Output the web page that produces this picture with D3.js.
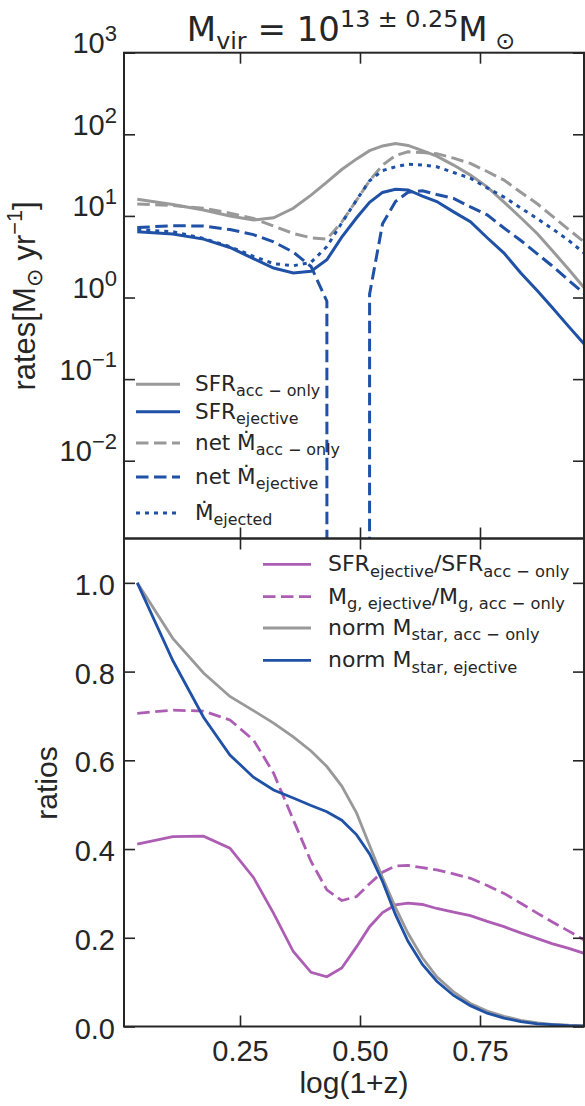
<!DOCTYPE html>
<html>
<head>
<meta charset="utf-8">
<script src="https://cdn.jsdelivr.net/npm/d3@7/dist/d3.min.js"></script>
<style>
  body { margin: 0; background: #fff; }
  svg text { fill: #262626; white-space: pre; }
</style>
</head>
<body>
<script>
// log(1+z) grid shared by every curve
const lz = [0.036, 0.110, 0.174, 0.229, 0.278, 0.320, 0.361, 0.398, 0.431, 0.462, 0.493, 0.520, 0.547,
            0.574, 0.600, 0.630, 0.660, 0.695, 0.730, 0.765, 0.800, 0.835, 0.870, 0.900, 0.935, 0.967];

// top panel: rates [Msun/yr]  (negative = net outflow, clipped on log axis)
const sfrAcc      = [16.0, 13.8, 11.8, 10.0, 8.9, 9.5, 12.4, 18, 26, 37, 50, 63, 72, 77, 73, 63, 54, 42, 31.6, 22.7, 14.8, 9.5, 6.0, 3.8, 2.2, 1.32];
const sfrEj       = [6.4, 6.0, 5.2, 4.1, 3.0, 2.3, 2.0, 2.1, 2.9, 5.5, 9.5, 14.7, 19.4, 21.2, 20.8, 17.5, 15, 11.2, 8.5, 5.4, 3.5, 2.0, 1.2, 0.76, 0.44, 0.27];
const netMdotAcc  = [14, 13.4, 12.4, 10.8, 9.3, 7.5, 6.1, 5.4, 5.2, 8.4, 15.6, 27, 42, 55, 61, 60, 58, 51, 44, 35, 27.5, 19.5, 14, 10, 6.8, 4.8];
const netMdotEj   = [7.2, 7.6, 7.5, 6.8, 5.9, 4.8, 3.6, 2.4, 0.9, -3, -2, 1.1, 8.0, 15, 19.5, 20.3, 18.3, 16.4, 12.9, 10.3, 7.1, 5.0, 3.4, 2.45, 1.62, 1.12];
const mdotEjected = [6.8, 6.4, 5.3, 4.2, 3.2, 2.6, 2.45, 2.7, 4.2, 8.2, 15.7, 27, 36, 40, 43, 42, 40, 34, 29, 22, 17, 12.5, 9.2, 7.0, 5.0, 3.5];

// bottom panel: ratios
const sfrRatio    = [0.411, 0.428, 0.429, 0.402, 0.336, 0.255, 0.169, 0.122, 0.112, 0.132, 0.180, 0.225, 0.257, 0.274, 0.278, 0.275, 0.266, 0.258, 0.250, 0.237, 0.225, 0.211, 0.198, 0.187, 0.176, 0.165];
const mgRatio     = [0.706, 0.713, 0.711, 0.691, 0.646, 0.571, 0.466, 0.372, 0.308, 0.284, 0.293, 0.322, 0.348, 0.362, 0.363, 0.358, 0.353, 0.344, 0.334, 0.318, 0.300, 0.278, 0.255, 0.236, 0.215, 0.195];
const mstarAcc    = [1.0, 0.875, 0.797, 0.744, 0.712, 0.684, 0.653, 0.621, 0.586, 0.542, 0.481, 0.408, 0.335, 0.268, 0.210, 0.155, 0.112, 0.078, 0.052, 0.035, 0.023, 0.014, 0.008, 0.005, 0.003, 0.002];
const mstarEj     = [1.0, 0.825, 0.697, 0.612, 0.562, 0.533, 0.515, 0.498, 0.484, 0.465, 0.432, 0.389, 0.327, 0.252, 0.192, 0.140, 0.102, 0.070, 0.047, 0.030, 0.019, 0.011, 0.006, 0.004, 0.002, 0.001];

// ticks
const xTicks = [0.25, 0.5, 0.75];
const xTickLabels = ['0.25', '0.50', '0.75'];
const yTopTicks = [1e-2, 1e-1, 1, 10, 100, 1000];
const yTopExp = ['\u22122', '\u22121', '0', '1', '2', '3'];
const yBotTicks = [0, 0.2, 0.4, 0.6, 0.8, 1.0];

const grey = '#999999', blue = '#1f51a6', purple = '#ad5eb4';
const lw = 3;

const svg = d3.select('body').append('svg')
    .attr('width', 585)
    .attr('height', 1106)
    .style('font-family', '"Liberation Sans", Arial, sans-serif');

const left = 124, right = 584, topY = 52.7, midY = 538.5, botY = 1026.5;

const x = d3.scaleLinear().domain([0.00833, 0.9667]).range([left, right]);
const yTop = d3.scaleLog().domain([Math.pow(10, -2.953), 1000]).range([midY, topY]);
const yBot = d3.scaleLinear().domain([0, 1.1]).range([botY, midY]);

// mathtext-ish helper: parts = [[text, 'n'|'sub'|'sup'], ...]
function rich(t, parts, size, small = 0.7) {
    let shift = 0;
    parts.forEach(([s, k]) => {
        const target = k === 'sub' ? size * 0.24 : k === 'sup' ? -size * 0.42 : 0;
        t.append('tspan')
            .attr('dy', target - shift)
            .attr('font-size', k === 'n' ? size : size * small)
            .text(s);
        shift = target;
    });
}

// clip paths
const defs = svg.append('defs');
defs.append('clipPath').attr('id', 'clipTop').append('rect')
    .attr('x', left).attr('y', topY).attr('width', right - left).attr('height', midY - topY);
defs.append('clipPath').attr('id', 'clipBot').append('rect')
    .attr('x', left).attr('y', midY).attr('width', right - left).attr('height', botY - midY);

// ---- top panel curves
const lineTop = d3.line()
    .x((d, i) => x(lz[i]))
    .y(d => d > 0 ? yTop(d) : 1e5);

const topSeries = [
    {data: sfrAcc, color: grey, dash: null},
    {data: sfrEj, color: blue, dash: null},
    {data: netMdotAcc, color: grey, dash: '12.5,5.5'},
    {data: netMdotEj, color: blue, dash: '12.5,5.5'},
    {data: mdotEjected, color: blue, dash: '4,5'}
];
const gTop = svg.append('g').attr('clip-path', 'url(#clipTop)');
topSeries.forEach(s => {
    gTop.append('path')
        .attr('d', lineTop(s.data))
        .attr('fill', 'none')
        .attr('stroke', s.color)
        .attr('stroke-width', lw)
        .attr('stroke-dasharray', s.dash);
});

// ---- bottom panel curves
const lineBot = d3.line()
    .x((d, i) => x(lz[i]))
    .y(d => yBot(d));

const botSeries = [
    {data: sfrRatio, color: purple, dash: null},
    {data: mgRatio, color: purple, dash: '12.5,5.5'},
    {data: mstarAcc, color: grey, dash: null},
    {data: mstarEj, color: blue, dash: null}
];
const gBot = svg.append('g').attr('clip-path', 'url(#clipBot)');
botSeries.forEach(s => {
    gBot.append('path')
        .attr('d', lineBot(s.data))
        .attr('fill', 'none')
        .attr('stroke', s.color)
        .attr('stroke-width', 2.8)
        .attr('stroke-dasharray', s.dash);
});

// ---- axes (ticks inward on all sides)
function styleAxis(g) {
    g.select('.domain').remove();
    g.selectAll('.tick line').attr('stroke', '#262626').attr('stroke-width', 1.6);
    g.selectAll('.tick text').attr('fill', '#262626').attr('font-size', 29);
}

// top panel
svg.append('g').attr('transform', `translate(${left},0)`)
    .call(d3.axisLeft(yTop).tickValues(yTopTicks).tickSize(-11).tickPadding(7))
    .call(styleAxis)
    .call(g => g.selectAll('.tick text').each(function (d, i) {
        const t = d3.select(this).text(null).attr('dy', '0.55em');
        rich(t, [['10', 'n'], [yTopExp[i], 'sup']], 29, 0.76);
    }));
svg.append('g').attr('transform', `translate(${right},0)`)
    .call(d3.axisRight(yTop).tickValues(yTopTicks).tickSize(-11).tickFormat(''))
    .call(styleAxis);
svg.append('g').attr('transform', `translate(0,${topY})`)
    .call(d3.axisTop(x).tickValues(xTicks).tickSize(-11).tickFormat(''))
    .call(styleAxis);
svg.append('g').attr('transform', `translate(0,${midY})`)
    .call(d3.axisBottom(x).tickValues(xTicks).tickSize(-11).tickFormat(''))
    .call(styleAxis);

// bottom panel
svg.append('g').attr('transform', `translate(${left},0)`)
    .call(d3.axisLeft(yBot).tickValues(yBotTicks).tickSize(-11).tickPadding(9).tickFormat(d3.format('.1f')))
    .call(styleAxis)
    .call(g => g.selectAll('.tick text').attr('dy', '0.4em'));
svg.append('g').attr('transform', `translate(${right},0)`)
    .call(d3.axisRight(yBot).tickValues(yBotTicks).tickSize(-11).tickFormat(''))
    .call(styleAxis);
svg.append('g').attr('transform', `translate(0,${midY})`)
    .call(d3.axisTop(x).tickValues(xTicks).tickSize(-11).tickFormat(''))
    .call(styleAxis);
svg.append('g').attr('transform', `translate(0,${botY})`)
    .call(d3.axisBottom(x).tickValues(xTicks).tickSize(-11).tickPadding(14).tickFormat((d, i) => xTickLabels[i]))
    .call(styleAxis);

// frames
[[topY, midY], [midY, botY]].forEach(([a, b]) => {
    svg.append('rect')
        .attr('x', left).attr('y', a).attr('width', right - left).attr('height', b - a)
        .attr('fill', 'none').attr('stroke', '#262626').attr('stroke-width', 2);
});

// ---- labels
const title = svg.append('text')
    .attr('x', 351).attr('y', 41)
    .attr('text-anchor', 'middle')
    .style('font-family', '"DejaVu Sans", sans-serif');
rich(title, [['M', 'n'], ['vir', 'sub'], [' = 10', 'n'], ['13 \u00b1 0.25', 'sup'], ['M', 'n'], [' \u2299', 'sub']], 34);

const yl1 = svg.append('text')
    .attr('transform', 'translate(35,296) rotate(-90)')
    .attr('text-anchor', 'middle');
rich(yl1, [['rates[M', 'n'], ['\u2299', 'sub'], [' yr', 'n'], ['\u22121', 'sup'], [']', 'n']], 31);

svg.append('text')
    .attr('transform', 'translate(57,783) rotate(-90)')
    .attr('text-anchor', 'middle')
    .attr('font-size', 30)
    .text('ratios');

svg.append('text')
    .attr('x', (left + right) / 2).attr('y', 1093)
    .attr('text-anchor', 'middle')
    .attr('font-size', 30)
    .text('log(1+z)');

// ---- legends
const legTop = [
    {color: grey, dash: null, parts: [['SFR', 'n'], ['acc \u2212 only', 'sub']]},
    {color: blue, dash: null, parts: [['SFR', 'n'], ['ejective', 'sub']]},
    {color: grey, dash: '12.5,5.5', parts: [['net M\u0307', 'n'], ['acc \u2212 only', 'sub']]},
    {color: blue, dash: '12.5,5.5', parts: [['net M\u0307', 'n'], ['ejective', 'sub']]},
    {color: blue, dash: '4,5', parts: [['M\u0307', 'n'], ['ejected', 'sub']]}
];
const legTopY = [384.3, 411.7, 443, 477, 513];
legTop.forEach((e, i) => {
    svg.append('line')
        .attr('x1', 136).attr('x2', 180).attr('y1', legTopY[i]).attr('y2', legTopY[i])
        .attr('stroke', e.color).attr('stroke-width', lw).attr('stroke-dasharray', e.dash);
    const t = svg.append('text').attr('x', 195).attr('y', legTopY[i] + 7)
        .style('font-family', '"DejaVu Sans", sans-serif');
    rich(t, e.parts, 21.5, 0.74);
});

const legBot = [
    {color: purple, dash: null, parts: [['SFR', 'n'], ['ejective', 'sub'], ['/SFR', 'n'], ['acc \u2212 only', 'sub']]},
    {color: purple, dash: '12.5,5.5', parts: [['M', 'n'], ['g, ejective', 'sub'], ['/M', 'n'], ['g, acc \u2212 only', 'sub']]},
    {color: grey, dash: null, parts: [['norm M', 'n'], ['star, acc \u2212 only', 'sub']]},
    {color: blue, dash: null, parts: [['norm M', 'n'], ['star, ejective', 'sub']]}
];
const legBotY = [564.3, 596.7, 628, 660.3];
legBot.forEach((e, i) => {
    svg.append('line')
        .attr('x1', 263).attr('x2', 311).attr('y1', legBotY[i]).attr('y2', legBotY[i])
        .attr('stroke', e.color).attr('stroke-width', 2.8).attr('stroke-dasharray', e.dash);
    const t = svg.append('text').attr('x', 328).attr('y', legBotY[i] + 7)
        .style('font-family', '"DejaVu Sans", sans-serif');
    rich(t, e.parts, 22, 0.74);
});
</script>
</body>
</html>
